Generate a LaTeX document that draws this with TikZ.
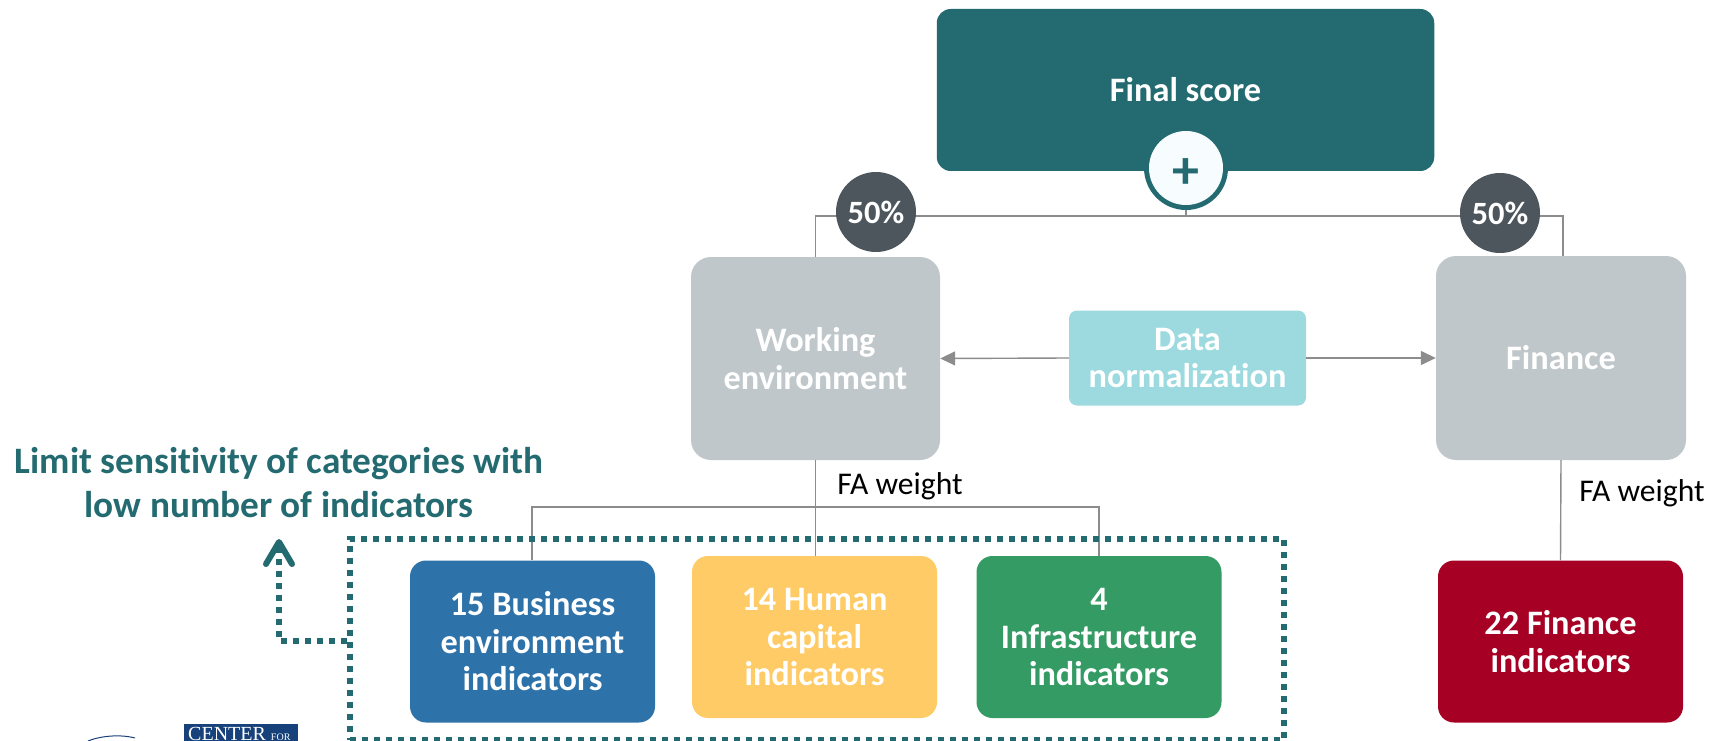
\documentclass[tikz,border=0pt]{standalone}
\usepackage{fontspec}
\setmainfont[Ligatures=NoCommon]{Carlito}
\newfontfamily\logofont{Liberation Serif}
\usetikzlibrary{arrows.meta,calc}
\definecolor{teal1}{HTML}{236B70}
\definecolor{graybox}{HTML}{BFC7CA}
\definecolor{cyanbox}{HTML}{9CDAE0}
\definecolor{bluebox}{HTML}{2E72AA}
\definecolor{yellowbox}{HTML}{FFCB66}
\definecolor{greenbox}{HTML}{359B64}
\definecolor{redbox}{HTML}{A60024}
\definecolor{darkcirc}{HTML}{4C565C}
\definecolor{linegray}{HTML}{8C8C8C}
\definecolor{logoblue}{HTML}{17417A}
\definecolor{plusfill}{HTML}{F7FDFE}
\tikzset{
 x=1pt,y=-1pt,
 boxbase/.style={inner sep=0pt,align=center,font=\fontsize{34.3}{37.5}\bfseries\selectfont,text=white},
 graynode/.style={boxbase,fill=graybox,rounded corners=20pt,minimum width=249pt,minimum height=203pt},
 indbox/.style={boxbase,rounded corners=16pt,minimum width=245pt,minimum height=162pt},
 pct/.style={circle,fill=darkcirc,minimum size=80pt,inner sep=0pt,text=white,font=\fontsize{32.5}{33}\bfseries\selectfont},
 wire/.style={draw=linegray,line width=1.4pt},
 arrowwire/.style={wire,-{Triangle[length=15pt,width=14pt]}},
 dotline/.style={draw=teal1,line width=6pt,dash pattern=on 6pt off 6pt},
 plain/.style={inner sep=0pt,font=\fontsize{31.6}{33}\selectfont,text=black},
 callout/.style={inner sep=0pt,align=center,text=teal1,font=\fontsize{37.3}{44}\bfseries\selectfont},
}
\begin{document}
\begin{tikzpicture}
\useasboundingbox (0,0) rectangle (1709,741);
% boxes
\node[boxbase,fill=teal1,rounded corners=14pt,minimum width=497.5pt,minimum height=162pt] (final) at (1185.5,90) {Final score};
\node[graynode] (wrk) at (815.5,358.5) {Working\\environment};
\node[graynode,minimum width=250pt,minimum height=204pt] (fin) at (1561,358) {Finance};
\node[boxbase,fill=cyanbox,rounded corners=8pt,minimum width=237pt,minimum height=95pt] (norm) at (1187.5,358) {Data\\normalization};
\node[indbox,fill=bluebox] (biz) at (532.5,641.5) {15 Business\\environment\\indicators};
\node[indbox,fill=yellowbox] (hum) at (814.5,637) {14 Human\\capital\\indicators};
\node[indbox,fill=greenbox] (inf) at (1099,637) {4\\Infrastructure\\indicators};
\node[indbox,fill=redbox] (red) at (1560.5,641.5) {22 Finance\\indicators};
% coordinates
\coordinate (busL) at (815.5,216);
\coordinate (busM) at (1186,216);
\coordinate (busR) at (1563,216);
\coordinate (subL) at (532,507);
\coordinate (subM) at (815.5,507);
\coordinate (subR) at (1099,507);
% connectors
\draw[wire] (wrk.north) -- (busL) -- (busR) -- (fin.north -| busR);
\draw[wire] (busM) -- (1186,200);
\draw[wire] (wrk.south) -- (subM);
\draw[wire] (biz.north -| subL) -- (subL) -- (subR) -- (inf.north -| subR);
\draw[wire] (subM) -- (hum.north -| subM);
\draw[wire] (fin.south) -- (red.north);
\draw[arrowwire] (norm.west) -- (wrk.east);
\draw[arrowwire] (norm.east) -- (fin.west);
% plus and percent
\node[circle,fill=teal1,minimum size=84pt,inner sep=0pt] (plusring) at (1186,168) {};
\node[circle,fill=plusfill,minimum size=74pt,inner sep=0pt] (plusdisc) at (1186,168) {};
\node[inner sep=0pt,text=teal1,font=\fontsize{54}{54}\bfseries\selectfont] (plus) at (1186,173.5) {+};
\node[pct] (pl) at (876,212) {50\%};
\node[pct] (pr) at (1500,213) {50\%};
% labels
\node[plain] (fa1) at (900,486) {FA weight};
\node[plain] (fa2) at (1642,493) {FA weight};
\node[callout] (call) at (279,483) {Limit sensitivity of categories with\\low number of indicators};
% dotted frame and arrow
\node[dotline,draw,inner sep=0pt,minimum width=934pt,minimum height=201pt] (frame) at (817,639.5) {};
\coordinate (elbow) at (279,641);
\coordinate (tip) at (279,539);
\draw[dotline,-{Straight Barb[length=22pt,width=26pt,round,line width=6pt]}] (frame.west |- elbow) -- (elbow) -- (tip);
% logo fragments
\node[inner sep=0pt,fill=logoblue,minimum width=114pt,minimum height=17pt] (logo) at (241,732.5) {};
\begin{scope}
\clip (184,724) rectangle (298,741);
\node[anchor=north west,inner sep=0pt,text=white,font=\logofont\fontsize{20}{22}\selectfont] (logotxt) at (188,727) {CENTER {\fontsize{10}{11}\selectfont FOR}};
\end{scope}
\draw[logoblue,line width=1pt] (88,741) .. controls (100,736) and (120,734) .. (135,738);
\end{tikzpicture}
\end{document}
